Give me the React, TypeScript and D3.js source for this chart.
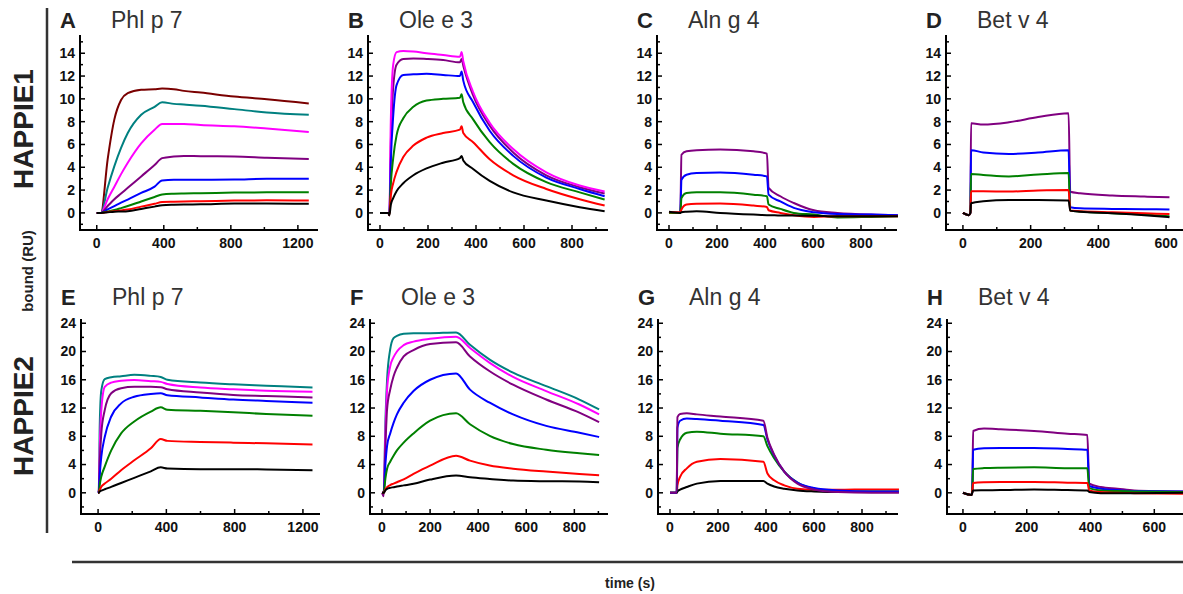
import React from "react";
import * as d3 from "d3";

// series colours
const colorOf: Record<string, string> = {
  brown: "#7a0000",
  teal: "#008080",
  magenta: "#ff00ff",
  purple: "#800080",
  blue: "#0000ff",
  green: "#008000",
  red: "#ff0000",
  black: "#000000",
};

// A - Phl p 7, HAPPIE1
const timeA = [0, 25, 65, 105, 145, 185, 265, 345, 390, 460, 520, 620, 820, 1015, 1265];
const namesA = ["brown", "teal", "magenta", "purple", "blue", "green", "red", "black"];
const valuesA = [
  [0, 0, 4.7, 8.2, 9.9, 10.5, 10.8, 10.85, 10.9, 10.85, 10.7, 10.55, 10.2, 9.97, 9.6],
  [0, 0, 2.2, 4.1, 5.7, 7.0, 8.6, 9.3, 9.7, 9.56, 9.5, 9.4, 9.1, 8.8, 8.6],
  [0, 0, 1.2, 2.3, 3.4, 4.4, 6.1, 7.3, 7.8, 7.8, 7.8, 7.7, 7.6, 7.4, 7.1],
  [0, 0, 0.6, 1.2, 1.7, 2.2, 3.2, 4.2, 4.8, 4.95, 5.0, 4.97, 4.95, 4.84, 4.72],
  [0, 0, 0.3, 0.6, 0.9, 1.17, 1.75, 2.3, 2.85, 2.9, 2.9, 2.9, 2.92, 3.0, 3.0],
  [0, 0, 0.12, 0.25, 0.42, 0.6, 1.0, 1.4, 1.62, 1.68, 1.7, 1.72, 1.78, 1.8, 1.8],
  [0, 0, 0.08, 0.15, 0.22, 0.3, 0.55, 0.8, 0.95, 0.98, 1.0, 1.02, 1.08, 1.1, 1.08],
  [0, 0, 0.05, 0.1, 0.12, 0.15, 0.35, 0.55, 0.67, 0.72, 0.74, 0.75, 0.82, 0.82, 0.8],
];

// B - Ole e 3, HAPPIE1
const timeB = [0, 35, 39, 45, 55, 69, 97, 139, 194, 263, 333, 340, 347, 388, 457, 555, 693, 832, 936];
const namesB = ["purple", "magenta", "blue", "green", "red", "black"];
const valuesB = [
  [0, 0, -0.2, 6.0, 11.0, 13.0, 13.5, 13.55, 13.5, 13.4, 13.2, 13.5, 12.9, 10.3, 7.65, 5.3, 3.3, 2.25, 1.7],
  [0, 0, -0.2, 8.0, 13.0, 14.1, 14.2, 14.15, 14.0, 13.85, 13.7, 14.1, 13.3, 10.6, 7.9, 5.6, 3.56, 2.4, 1.87],
  [0, 0, -0.2, 4.5, 8.5, 11.2, 12.1, 12.15, 12.2, 12.1, 12.0, 12.4, 11.6, 9.7, 7.2, 5.0, 3.1, 2.1, 1.46],
  [0, 0, -0.2, 2.5, 4.8, 6.8, 8.3, 9.3, 9.85, 10.0, 10.1, 10.4, 9.7, 8.2, 6.2, 4.3, 2.7, 1.8, 1.17],
  [0, 0, -0.2, 1.5, 2.6, 3.6, 4.9, 5.9, 6.6, 7.0, 7.3, 7.6, 7.0, 6.2, 4.7, 3.3, 2.1, 1.2, 0.64],
  [0, 0, -0.2, 0.7, 1.3, 1.9, 2.6, 3.3, 3.9, 4.4, 4.8, 5.0, 4.6, 3.85, 2.8, 1.8, 1.08, 0.5, 0.15],
];

// C - Aln g 4, HAPPIE1
const timeC = [0, 47, 52, 73, 115, 213, 352, 408, 415, 464, 520, 604, 702, 842, 954];
const namesC = ["purple", "blue", "green", "red", "black"];
const valuesC = [
  [0.05, 0, 5.1, 5.4, 5.5, 5.55, 5.4, 5.2, 2.2, 1.46, 0.87, 0.23, 0, -0.15, -0.2],
  [0, 0, 2.9, 3.35, 3.5, 3.55, 3.35, 3.2, 1.6, 1.0, 0.44, 0.06, -0.1, -0.15, -0.2],
  [0, 0, 1.3, 1.75, 1.8, 1.8, 1.6, 1.46, 0.73, 0.35, 0, -0.15, -0.4, -0.35, -0.3],
  [0.05, 0.05, 0.3, 0.73, 0.8, 0.82, 0.64, 0.52, 0.23, 0, -0.2, -0.35, -0.3, -0.3, -0.3],
  [0.1, 0, 0.05, 0.1, 0.15, 0, -0.15, -0.2, -0.2, -0.23, -0.23, -0.25, -0.3, -0.3, -0.3],
];

// D - Bet v 4, HAPPIE1
const timeD = [0, 17, 22, 24, 60, 136, 222, 312, 317, 346, 441, 536, 610];
const namesD = ["purple", "blue", "green", "red", "black"];
const valuesD = [
  [0, -0.2, 0, 7.86, 7.75, 7.95, 8.4, 8.74, 1.85, 1.72, 1.52, 1.43, 1.37],
  [0, -0.2, 0, 5.5, 5.3, 5.17, 5.3, 5.5, 0.5, 0.4, 0.35, 0.32, 0.3],
  [0, -0.2, 0, 3.4, 3.33, 3.2, 3.36, 3.5, 0.2, 0.12, -0.03, -0.15, -0.3],
  [0, -0.2, 0, 1.9, 1.9, 1.87, 1.96, 2.0, 0.2, 0.15, 0.06, -0.03, -0.1],
  [0, -0.2, 0, 0.85, 1.02, 1.14, 1.14, 1.08, 0.2, 0.1, -0.03, -0.2, -0.38],
];

// E - Phl p 7, HAPPIE2
const timeE = [0, 4, 10, 19, 39, 77, 135, 212, 309, 367, 406, 599, 792, 985, 1256];
const namesE = ["teal", "magenta", "purple", "blue", "green", "red", "black"];
const valuesE = [
  [0, 0.3, 9.8, 14.5, 16.1, 16.35, 16.5, 16.7, 16.55, 16.4, 16.0, 15.6, 15.35, 15.16, 14.9],
  [0, 0.2, 6.5, 11.7, 15.0, 15.6, 15.85, 15.97, 15.8, 15.7, 15.4, 14.9, 14.65, 14.45, 14.3],
  [0, 0.1, 4.5, 8.4, 11.7, 14.1, 14.8, 15.0, 15.0, 14.95, 14.65, 14.2, 13.85, 13.7, 13.5],
  [0, 0.1, 2.6, 5.1, 7.9, 10.8, 12.66, 13.6, 14.0, 14.1, 13.8, 13.5, 13.2, 13.0, 12.75],
  [0, 0.05, 1.2, 2.3, 3.7, 6.0, 8.4, 10.1, 11.5, 12.1, 11.75, 11.6, 11.4, 11.15, 10.9],
  [0, 0, 0.4, 0.85, 1.3, 2.0, 3.2, 4.6, 6.3, 7.6, 7.35, 7.2, 7.1, 7.0, 6.85],
  [0, 0, 0.2, 0.3, 0.5, 0.84, 1.39, 2.12, 3.04, 3.6, 3.45, 3.35, 3.35, 3.3, 3.2],
];

// F - Ole e 3, HAPPIE2
const timeF = [0, 7, 14, 21, 34, 48, 62, 90, 131, 200, 308, 366, 448, 545, 683, 821, 903];
const namesF = ["teal", "magenta", "purple", "blue", "green", "red", "black"];
const valuesF = [
  [0, 0, 9.9, 16.0, 20.3, 21.9, 22.2, 22.5, 22.6, 22.6, 22.7, 20.95, 18.85, 17.0, 15.1, 13.2, 11.8],
  [0, 0, 8.5, 14.6, 17.9, 19.2, 20.0, 20.9, 21.4, 21.8, 22.1, 20.5, 18.4, 16.4, 14.4, 12.5, 11.1],
  [0, -0.5, 6.5, 11.8, 14.6, 16.5, 17.7, 19.3, 20.2, 21.05, 21.3, 19.3, 17.2, 15.3, 13.2, 11.35, 10.0],
  [0, 0, 4.0, 6.65, 8.4, 9.9, 11.1, 12.75, 14.4, 16.0, 16.9, 14.6, 12.75, 11.1, 9.47, 8.5, 7.9],
  [0, 0, 2.0, 3.4, 4.4, 5.25, 6.0, 7.1, 8.4, 10.2, 11.25, 9.7, 8.06, 6.9, 6.1, 5.6, 5.35],
  [0, 0, 0.5, 0.8, 1.1, 1.3, 1.5, 1.9, 2.67, 3.85, 5.25, 4.55, 3.85, 3.4, 3.0, 2.67, 2.5],
  [0, 0, 0.35, 0.56, 0.7, 0.8, 0.9, 1.05, 1.27, 1.87, 2.44, 2.2, 1.97, 1.73, 1.64, 1.6, 1.5],
];

// G - Aln g 4, HAPPIE2
const timeG = [0, 28, 31, 42, 70, 112, 210, 389, 406, 434, 476, 531, 601, 699, 839, 954];
const namesG = ["red", "black", "green", "blue", "purple"];
const valuesG = [
  [0, 0, 1.06, 2.26, 3.46, 4.4, 4.8, 4.4, 2.74, 1.78, 1.06, 0.58, 0.43, 0.43, 0.48, 0.48],
  [0, 0, 0.2, 0.45, 0.82, 1.3, 1.68, 1.68, 1.3, 0.9, 0.58, 0.34, 0.2, 0.1, 0.1, 0.1],
  [0, 0, 6.35, 7.55, 8.5, 8.65, 8.37, 8.0, 6.6, 4.9, 3.0, 1.44, 0.58, 0.2, 0.2, 0.2],
  [0, 0, 9.2, 10.2, 10.5, 10.45, 10.2, 9.6, 7.55, 5.3, 3.0, 1.44, 0.67, 0.34, 0.2, 0.2],
  [0, 0, 10.7, 11.15, 11.25, 11.1, 10.8, 10.2, 7.8, 5.4, 3.0, 1.3, 0.48, 0.1, 0, 0],
];

// H - Bet v 4, HAPPIE2
const timeH = [0, 27, 29, 32, 66, 118, 223, 328, 390, 396, 432, 485, 537, 690];
const namesH = ["purple", "blue", "green", "red", "black"];
const valuesH = [
  [0, -0.3, 0, 8.75, 9.09, 9.0, 8.75, 8.37, 8.17, 1.3, 0.82, 0.58, 0.34, 0.2],
  [0, -0.3, 0, 6.1, 6.3, 6.35, 6.35, 6.2, 6.1, 0.96, 0.58, 0.38, 0.24, 0.2],
  [0, -0.3, 0, 3.37, 3.5, 3.56, 3.6, 3.46, 3.46, 0.67, 0.34, 0.25, 0.2, 0.1],
  [0, -0.3, 0, 1.4, 1.5, 1.54, 1.54, 1.44, 1.4, 0.34, 0.1, 0.0, -0.05, -0.14],
  [0, -0.3, 0, 0.34, 0.36, 0.38, 0.48, 0.38, 0.34, 0.1, -0.05, -0.05, -0.05, 0],
];

const panelTitles = ["Phl p 7", "Ole e 3", "Aln g 4", "Bet v 4", "Phl p 7", "Ole e 3", "Aln g 4", "Bet v 4"];
const panelLetters = ["A", "B", "C", "D", "E", "F", "G", "H"];
const xDomains: [number, number][] = [
  [-100, 1320], [-50, 950], [-50, 950], [-50, 650],
  [-100, 1300], [-50, 940], [-50, 950], [-50, 690],
];
const xTickSteps = [400, 200, 200, 200, 400, 200, 200, 200];

// layout
const panelLeft = [80, 368, 657, 946, 81, 370, 658, 947];
const panelRight = [318, 608, 897, 1183, 320, 608, 898, 1183];
const rowLayout = [
  { yDomain: [-1.5, 15.6], bottom: 230, top: 35, step: 2, titleY: 28 },
  { yDomain: [-3, 24.6], bottom: 514, top: 319, step: 4, titleY: 305 },
];

const panelData = [
  { times: timeA, names: namesA, values: valuesA },
  { times: timeB, names: namesB, values: valuesB },
  { times: timeC, names: namesC, values: valuesC },
  { times: timeD, names: namesD, values: valuesD },
  { times: timeE, names: namesE, values: valuesE },
  { times: timeF, names: namesF, values: valuesF },
  { times: timeG, names: namesG, values: valuesG },
  { times: timeH, names: namesH, values: valuesH },
];

const FONT = "'Liberation Sans', Arial, Helvetica, sans-serif";

function Panel({ i }: { i: number }) {
  const row = rowLayout[i < 4 ? 0 : 1];
  const left = panelLeft[i];
  const right = panelRight[i];
  const x = d3.scaleLinear().domain(xDomains[i]).range([left, right]);
  const y = d3.scaleLinear().domain(row.yDomain).range([row.bottom, row.top]);
  const step = xTickSteps[i];
  const xMajor = d3.range(0, xDomains[i][1] + 1, step);
  const xMinor = d3.range(step / 2, xDomains[i][1], step);
  const yMajor = d3.range(0, row.yDomain[1] + 0.01, row.step);
  const yMinor = d3.range(-row.step / 2, row.yDomain[1], row.step);
  const { times, names, values } = panelData[i];
  const line = d3
    .line<number>()
    .x((_, k) => x(times[k]))
    .y((v) => y(v))
    .curve(d3.curveMonotoneX);

  return (
    <g>
      <text x={left - 20} y={row.titleY} fontFamily={FONT} fontWeight="bold" fontSize={22} fill="#222">
        {panelLetters[i]}
      </text>
      <text x={left + 31} y={row.titleY} fontFamily={FONT} fontSize={23} fill="#333">
        {panelTitles[i]}
      </text>
      {values.map((vals, k) => (
        <path key={k} d={line(vals) || ""} fill="none" stroke={colorOf[names[k]]} strokeWidth={2} strokeLinejoin="round" />
      ))}
      {/* axes */}
      <line x1={left} x2={left} y1={row.top} y2={row.bottom} stroke="#000" strokeWidth={2} />
      <line x1={left - 1} x2={right} y1={row.bottom} y2={row.bottom} stroke="#000" strokeWidth={2} />
      {yMajor.map((v) => (
        <g key={"ym" + v}>
          <line x1={left} x2={left + 5} y1={y(v)} y2={y(v)} stroke="#000" strokeWidth={1.5} />
          <text x={left - 5} y={y(v)} dy="0.35em" textAnchor="end" fontFamily={FONT} fontWeight="bold" fontSize={14} fill="#111">
            {v}
          </text>
        </g>
      ))}
      {yMinor.map((v) => (
        <line key={"yn" + v} x1={left} x2={left + 3} y1={y(v)} y2={y(v)} stroke="#000" strokeWidth={1.5} />
      ))}
      {xMajor.map((v) => (
        <g key={"xm" + v}>
          <line x1={x(v)} x2={x(v)} y1={row.bottom} y2={row.bottom - 5} stroke="#000" strokeWidth={1.5} />
          <text x={x(v)} y={row.bottom + 18} textAnchor="middle" fontFamily={FONT} fontWeight="bold" fontSize={14} fill="#111">
            {v}
          </text>
        </g>
      ))}
      {xMinor.map((v) => (
        <line key={"xn" + v} x1={x(v)} x2={x(v)} y1={row.bottom} y2={row.bottom - 3} stroke="#000" strokeWidth={1.5} />
      ))}
    </g>
  );
}

export default function App() {
  return (
    <svg
      width={1183}
      height={594}
      style={{ position: "absolute", left: 0, top: 0, display: "block", background: "#fff" }}
    >
      <rect width={1183} height={594} fill="#fff" />
      <line x1={47} x2={47} y1={8} y2={533} stroke="#333" strokeWidth={2.5} />
      <line x1={72} x2={1183} y1={562} y2={562} stroke="#333" strokeWidth={2.5} />
      <text transform="translate(33,129) rotate(-90)" textAnchor="middle" fontFamily={FONT} fontWeight="bold" fontSize={28} fill="#222">
        HAPPIE1
      </text>
      <text transform="translate(33,416) rotate(-90)" textAnchor="middle" fontFamily={FONT} fontWeight="bold" fontSize={28} fill="#222">
        HAPPIE2
      </text>
      <text transform="translate(33,271) rotate(-90)" textAnchor="middle" fontFamily={FONT} fontWeight="bold" fontSize={15} fill="#222">
        bound (RU)
      </text>
      <text x={630} y={588} textAnchor="middle" fontFamily={FONT} fontWeight="bold" fontSize={14} fill="#222">
        time (s)
      </text>
      {panelLetters.map((_, i) => (
        <Panel key={i} i={i} />
      ))}
    </svg>
  );
}
